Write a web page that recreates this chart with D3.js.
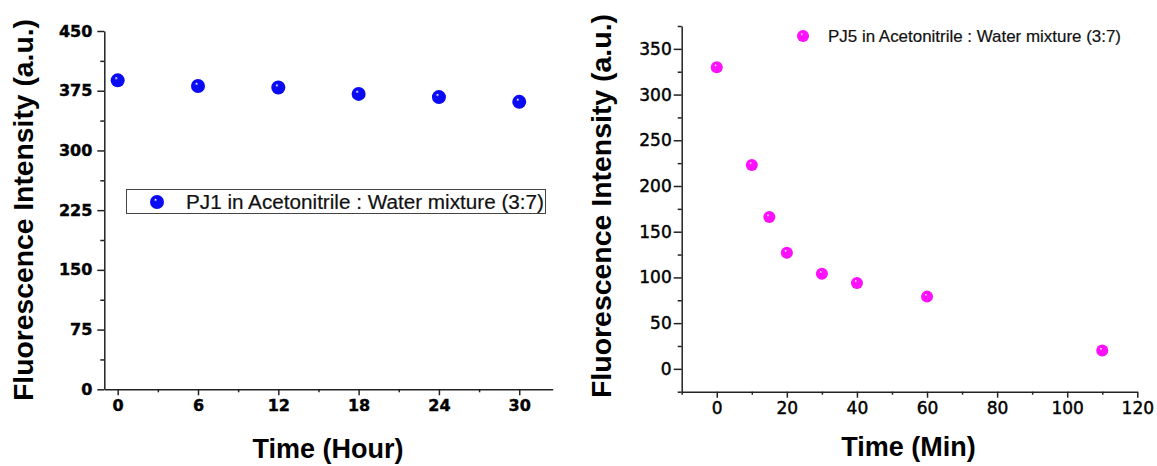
<!DOCTYPE html>
<html>
<head>
<meta charset="utf-8">
<script src="https://cdn.jsdelivr.net/npm/d3@7"></script>
<style>
  html, body { margin: 0; padding: 0; background: #fff; }
  svg { display: block; }
  .axis path, .axis line { stroke: #222; stroke-width: 1.5px; }
</style>
</head>
<body>
<svg id="chart" width="1157" height="466"></svg>
<script>
// PJ1 stability over hours
const pj1Hours = [0, 6, 12, 18, 24, 30];
const pj1Intensity = [388, 381, 379, 371, 367, 361];
const pj1Label = "PJ1 in Acetonitrile : Water mixture (3:7)";
const hourTicks = [0, 6, 12, 18, 24, 30];
const hourMinorTicks = [3, 9, 15, 21, 27];
const leftYTicks = [0, 75, 150, 225, 300, 375, 450];
const leftYMinorTicks = [37.5, 112.5, 187.5, 262.5, 337.5, 412.5];

// PJ5 decay over minutes
const pj5Minutes = [0, 10, 15, 20, 30, 40, 60, 110];
const pj5Intensity = [330, 223, 166, 127, 104, 94, 79, 20];
const pj5Label = "PJ5 in Acetonitrile : Water mixture (3:7)";
const minTicks = [0, 20, 40, 60, 80, 100, 120];
const minMinorTicks = [-10, 10, 30, 50, 70, 90, 110];
const rightYTicks = [0, 50, 100, 150, 200, 250, 300, 350];
const rightYMinorTicks = [-25, 25, 75, 125, 175, 225, 275, 325, 375];

const yTitle = "Fluorescence Intensity (a.u.)";

const svg = d3.select("#chart");
const defs = svg.append("defs");

function sphereGradient(id, base, dark) {
  const g = defs.append("radialGradient")
    .attr("id", id).attr("cx", "50%").attr("cy", "50%").attr("r", "55%")
    .attr("fx", "38%").attr("fy", "32%");
  g.append("stop").attr("offset", "0%").attr("stop-color", "#ffffff");
  g.append("stop").attr("offset", "22%").attr("stop-color", base);
  g.append("stop").attr("offset", "85%").attr("stop-color", base);
  g.append("stop").attr("offset", "100%").attr("stop-color", dark);
}
sphereGradient("blueBall", "#0a0af5", "#0000b0");
sphereGradient("pinkBall", "#ff10ff", "#c000c0");

const sans = "'Liberation Sans', Arial, sans-serif";
const tickFont = "'DejaVu Sans', sans-serif";

// ---------- left panel ----------
const xL = d3.scaleLinear().domain([-1, 32.5]).range([104.3, 552.7]);
const yL = d3.scaleLinear().domain([0, 450]).range([389.3, 31]);

const gxL = svg.append("g").attr("class", "axis")
  .attr("transform", `translate(0,${yL(0)})`)
  .call(d3.axisBottom(xL).tickValues(hourTicks).tickSize(6).tickSizeOuter(0).tickPadding(4));
svg.append("g").attr("class", "axis")
  .attr("transform", `translate(0,${yL(0)})`)
  .call(d3.axisBottom(xL).tickValues(hourMinorTicks).tickSize(3).tickSizeOuter(0).tickFormat(""))
  .select(".domain").remove();
gxL.selectAll("text").attr("font-family", tickFont).attr("font-weight", "bold")
  .attr("font-size", 16).attr("fill", "#000").attr("stroke", "#000").attr("stroke-width", 0.4);

const gyL = svg.append("g").attr("class", "axis")
  .attr("transform", `translate(${xL(-1)},0)`)
  .call(d3.axisLeft(yL).tickValues(leftYTicks).tickSize(7).tickSizeOuter(0).tickPadding(5));
svg.append("g").attr("class", "axis")
  .attr("transform", `translate(${xL(-1)},0)`)
  .call(d3.axisLeft(yL).tickValues(leftYMinorTicks).tickSize(4).tickSizeOuter(0).tickFormat(""))
  .select(".domain").remove();
gyL.selectAll("text").attr("font-family", tickFont).attr("font-weight", "bold")
  .attr("font-size", 16).attr("fill", "#000").attr("stroke", "#000").attr("stroke-width", 0.4);

svg.append("g").selectAll("circle")
  .data(pj1Hours.map((h, i) => [h, pj1Intensity[i]]))
  .join("circle")
  .attr("cx", d => xL(d[0])).attr("cy", d => yL(d[1]))
  .attr("r", 7).attr("fill", "url(#blueBall)");

// legend box
const legL = svg.append("g");
legL.append("rect").attr("x", 126.5).attr("y", 189.5).attr("width", 419).attr("height", 24)
  .attr("fill", "#fff").attr("stroke", "#444").attr("stroke-width", 1);
legL.append("circle").attr("cx", 157).attr("cy", 202).attr("r", 7).attr("fill", "url(#blueBall)");
legL.append("text").attr("x", 186).attr("y", 209)
  .attr("font-family", sans).attr("font-size", 20)
  .attr("textLength", 358).attr("lengthAdjust", "spacingAndGlyphs")
  .attr("fill", "#111").attr("stroke", "#111").attr("stroke-width", 0.2)
  .text(pj1Label);

svg.append("text")
  .attr("transform", "translate(33,210) rotate(-90)")
  .attr("text-anchor", "middle")
  .attr("font-family", sans).attr("font-weight", "bold").attr("font-size", 27)
  .attr("textLength", 382).attr("lengthAdjust", "spacingAndGlyphs")
  .text(yTitle);

svg.append("text")
  .attr("x", 328).attr("y", 457.5).attr("text-anchor", "middle")
  .attr("font-family", sans).attr("font-weight", "bold").attr("font-size", 27)
  .text("Time (Hour)");

// ---------- right panel ----------
const xR = d3.scaleLinear().domain([-10, 120]).range([681.7, 1137.3]);
const yR = d3.scaleLinear().domain([-25, 375]).range([391.7, 26]);

const gxR = svg.append("g").attr("class", "axis")
  .attr("transform", `translate(0,${yR(-25)})`)
  .call(d3.axisBottom(xR).tickValues(minTicks).tickSize(6).tickSizeOuter(0).tickPadding(4));
svg.append("g").attr("class", "axis")
  .attr("transform", `translate(0,${yR(-25)})`)
  .call(d3.axisBottom(xR).tickValues(minMinorTicks).tickSize(3).tickSizeOuter(0).tickFormat(""))
  .select(".domain").remove();
gxR.selectAll("text").attr("font-family", tickFont).attr("font-size", 17)
  .attr("fill", "#000").attr("stroke", "#000").attr("stroke-width", 0.45);

const gyR = svg.append("g").attr("class", "axis")
  .attr("transform", `translate(${xR(-10)},0)`)
  .call(d3.axisLeft(yR).tickValues(rightYTicks).tickSize(8).tickSizeOuter(0).tickPadding(2));
svg.append("g").attr("class", "axis")
  .attr("transform", `translate(${xR(-10)},0)`)
  .call(d3.axisLeft(yR).tickValues(rightYMinorTicks).tickSize(4).tickSizeOuter(0).tickFormat(""))
  .select(".domain").remove();
gyR.selectAll("text").attr("font-family", tickFont).attr("font-size", 17)
  .attr("fill", "#000").attr("stroke", "#000").attr("stroke-width", 0.45);

svg.append("g").selectAll("circle")
  .data(pj5Minutes.map((m, i) => [m, pj5Intensity[i]]))
  .join("circle")
  .attr("cx", d => xR(d[0])).attr("cy", d => yR(d[1]))
  .attr("r", 6).attr("fill", "url(#pinkBall)");

const legR = svg.append("g");
legR.append("circle").attr("cx", 803).attr("cy", 36).attr("r", 6).attr("fill", "url(#pinkBall)");
legR.append("text").attr("x", 828).attr("y", 42)
  .attr("font-family", sans).attr("font-size", 17)
  .attr("textLength", 293).attr("lengthAdjust", "spacingAndGlyphs")
  .attr("fill", "#111").attr("stroke", "#111").attr("stroke-width", 0.2)
  .text(pj5Label);

svg.append("text")
  .attr("transform", "translate(611,206) rotate(-90)")
  .attr("text-anchor", "middle")
  .attr("font-family", sans).attr("font-weight", "bold").attr("font-size", 27)
  .attr("textLength", 384).attr("lengthAdjust", "spacingAndGlyphs")
  .text(yTitle);

svg.append("text")
  .attr("x", 908.5).attr("y", 456).attr("text-anchor", "middle")
  .attr("font-family", sans).attr("font-weight", "bold").attr("font-size", 27)
  .text("Time (Min)");
</script>
</body>
</html>
